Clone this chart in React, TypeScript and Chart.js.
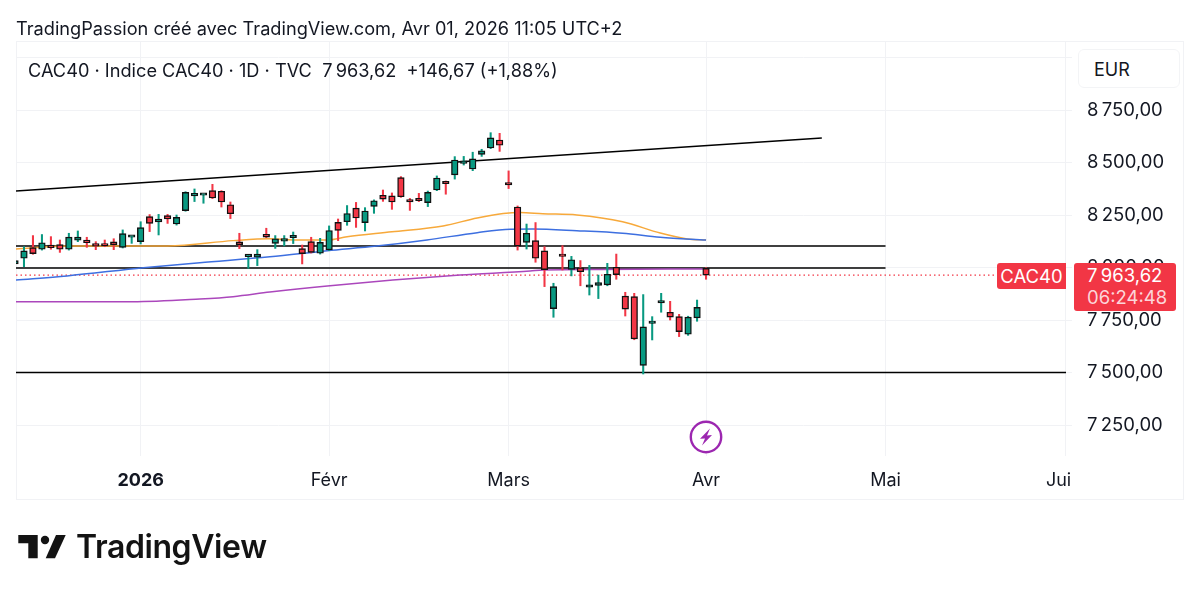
import { useEffect, useRef } from 'react';
import Chart from 'chart.js/auto';

const UP = '#089981';
const DOWN = '#f23645';
const GRID = '#f1f2f5';
const FONT = 'Inter, "Noto Sans", sans-serif';

// trading day index of the first candle (it sits half hidden on the left edge)
const firstDay = -1;
const opens = [8017, 8044, 8095, 8087, 8107, 8109, 8087, 8130, 8131, 8112, 8106, 8122, 8096, 8144, 8123, 8242, 8217, 8247, 8207, 8271, 8341, 8344, 8366, 8363, 8299, 8122, 8052, 8049, 8158, 8115, 8126, 8142, 8090, 8123, 8068, 8084, 8215, 8218, 8283, 8214, 8291, 8344, 8341, 8428, 8317, 8325, 8309, 8369, 8409, 8441, 8496, 8469, 8539, 8569, 8607, 8401, 8288, 8120, 8128, 8079, 7804, 8061, 7991, 7999, 7906, 7915, 7917, 8001, 7864, 7861, 7534, 7734, 7831, 7787, 7766, 7682, 7760, 7996];
const highs = [8033, 8099, 8152, 8157, 8147, 8131, 8163, 8174, 8144, 8123, 8131, 8137, 8179, 8148, 8218, 8252, 8253, 8253, 8250, 8361, 8374, 8348, 8396, 8366, 8312, 8163, 8057, 8085, 8187, 8152, 8152, 8169, 8107, 8144, 8139, 8198, 8231, 8295, 8310, 8285, 8322, 8369, 8355, 8433, 8329, 8353, 8364, 8436, 8412, 8528, 8529, 8549, 8563, 8642, 8639, 8460, 8293, 8207, 8214, 8099, 7925, 8104, 8053, 8033, 8010, 7964, 8020, 8064, 7882, 7877, 7871, 7766, 7877, 7839, 7777, 7768, 7845, 7999];
const lows = [8017, 8004, 8063, 8083, 8087, 8072, 8083, 8123, 8096, 8085, 8099, 8085, 8093, 8115, 8112, 8171, 8155, 8210, 8202, 8268, 8314, 8306, 8328, 8288, 8233, 8090, 7996, 8009, 8142, 8091, 8103, 8114, 8017, 8069, 8064, 8080, 8128, 8201, 8191, 8174, 8258, 8315, 8277, 8334, 8272, 8314, 8290, 8366, 8349, 8421, 8488, 8461, 8529, 8566, 8553, 8376, 8083, 8088, 8025, 7909, 7763, 7988, 7960, 7913, 7869, 7852, 7913, 7944, 7769, 7656, 7493, 7655, 7787, 7750, 7671, 7677, 7744, 7944];
const closes = [8033, 8079, 8066, 8118, 8095, 8087, 8145, 8145, 8118, 8102, 8103, 8109, 8161, 8147, 8190, 8210, 8231, 8231, 8239, 8358, 8353, 8347, 8331, 8312, 8256, 8109, 8057, 8064, 8145, 8137, 8131, 8149, 8066, 8072, 8120, 8176, 8177, 8257, 8236, 8269, 8318, 8326, 8312, 8337, 8312, 8318, 8358, 8426, 8399, 8512, 8502, 8517, 8556, 8617, 8582, 8393, 8102, 8163, 8044, 7990, 7909, 8053, 8037, 7980, 7910, 7928, 7968, 7966, 7802, 7660, 7717, 7739, 7839, 7764, 7695, 7764, 7810, 7963.62];

// moving averages at their bends
const orangeDays = [-0.9, 4.8, 16, 23.3, 27.4, 30, 33.8, 36, 41, 46.7, 50.5, 53.4, 55.3, 57.8, 61.6, 66.7, 70.9, 73.9, 76];
const orangeValues = [8088, 8102, 8102, 8128, 8137, 8131, 8131, 8147, 8170, 8198, 8236, 8257, 8262, 8256, 8250, 8218, 8164, 8136, 8131];
const blueDays = [-0.9, 4.8, 13.3, 19.6, 27.4, 33.8, 39.3, 44.9, 50.5, 54.2, 56.7, 61.6, 66.7, 70.9, 76];
const blueValues = [7940, 7960, 7999, 8023, 8051, 8080, 8102, 8131, 8166, 8182, 8183, 8175, 8163, 8144, 8131];
const purpleDays = [-0.9, 12.1, 19.6, 23.3, 27.4, 33.8, 41.1, 48.6, 56.4, 57.8, 64.2, 76];
const purpleValues = [7837, 7837, 7850, 7861, 7883, 7912, 7940, 7964, 7983, 7988, 7991, 7993];

const xMin = -0.89;
const xMax = 116.11;
const yMin = 7102.4;
const yMax = 9078.6;

// drawn levels: [start day, start value, end day, end value]
const trendLine = [xMin, 8364, 88.9, 8617];
const upperLevel = [xMin, 8102.4, 96, 8102.4];
const middleLevel = [xMin, 7997.6, 96, 7997.6];
const lowerLevel = [xMin, 7500, xMax, 7500];
const lastPrice = [xMin, 7963.62, 108.4, 7963.62];

const priceTicks = [7250, 7500, 7750, 8000, 8250, 8500, 8750, 9000];
const timeTickDays = [13, 34, 54, 76, 96, 115.28, 116];
const timeTickLabels = ['2026', 'Févr', 'Mars', 'Avr', 'Mai', 'Jui', ''];

const segment = (p: number[]) => [{ x: p[0], y: p[1] }, { x: p[2], y: p[3] }];
const curve = (days: number[], values: number[]) => days.map((x, i) => ({ x, y: values[i] }));
const candleColor = opens.map((o, i) => (closes[i] >= o ? UP : DOWN));
const priceLabel = (v: number) => {
  const s = v.toFixed(2).replace('.', ',');
  return s.slice(0, 1) + '\u2009' + s.slice(1);
};

function CandleChart() {
  const canvasRef = useRef<HTMLCanvasElement | null>(null);

  useEffect(() => {
    if (!canvasRef.current) return undefined;

    const line = (data: any[], color: string, width: number, extra = {}) => ({
      type: 'line' as const,
      data,
      borderColor: color,
      borderWidth: width,
      pointRadius: 0,
      order: 3,
      ...extra,
    });

    const chart = new Chart(canvasRef.current, {
      type: 'bar',
      data: {
        datasets: [
          line(curve(purpleDays, purpleValues), '#ab47bc', 1.5, { cubicInterpolationMode: 'monotone' }),
          line(curve(blueDays, blueValues), '#3d6fe0', 1.5, { cubicInterpolationMode: 'monotone' }),
          line(curve(orangeDays, orangeValues), '#f7a93b', 1.5, { cubicInterpolationMode: 'monotone' }),
          line(segment(lastPrice), DOWN, 1.2, { borderDash: [1.5, 3] }),
          line(segment(trendLine), '#000000', 1.6),
          line(segment(upperLevel), '#000000', 1.6),
          line(segment(middleLevel), '#000000', 1.6),
          line(segment(lowerLevel), '#000000', 1.6),
          {
            type: 'bar' as const,
            data: highs.map((h, i) => ({ x: i + firstDay, y: [lows[i], h] })),
            backgroundColor: candleColor,
            barThickness: 1.4,
            grouped: false,
            order: 2,
          },
          {
            type: 'bar' as const,
            data: opens.map((o, i) => ({ x: i + firstDay, y: [o, closes[i]] })),
            backgroundColor: candleColor,
            borderColor: '#111111',
            borderWidth: 1.4,
            borderSkipped: false,
            barThickness: 6.6,
            minBarLength: 2.4,
            grouped: false,
            order: 1,
          },
        ],
      } as any,
      options: {
        animation: false,
        responsive: false,
        layout: { padding: { left: 16, top: 41, right: 0, bottom: 0 } },
        plugins: { legend: { display: false }, tooltip: { enabled: false } },
        scales: {
          x: {
            type: 'linear',
            min: xMin,
            max: xMax,
            offset: false,
            border: { display: false },
            grid: {
              offset: false,
              drawTicks: false,
              color: (ctx: any) => (ctx.tick && ctx.tick.value === 115.28 ? 'rgba(0,0,0,0)' : GRID),
            },
            afterBuildTicks: (scale: any) => {
              scale.ticks = timeTickDays.map((value) => ({ value }));
            },
            afterFit: (scale: any) => {
              scale.height = 138;
            },
            ticks: {
              autoSkip: false,
              maxRotation: 0,
              padding: 14,
              color: '#131722',
              font: (ctx: any) => ({
                family: FONT,
                size: 18,
                weight: ctx.tick && ctx.tick.value === 13 ? 700 : 400,
              }),
              callback: (v: any) => timeTickLabels[timeTickDays.indexOf(Number(v))] ?? '',
            },
          },
          y: {
            type: 'linear',
            position: 'right',
            min: yMin,
            max: yMax,
            border: { display: false },
            grid: { color: GRID, tickLength: 6, tickColor: GRID },
            afterBuildTicks: (scale: any) => {
              scale.ticks = priceTicks.map((value) => ({ value }));
            },
            afterFit: (scale: any) => {
              scale.width = 134;
            },
            ticks: {
              padding: 15,
              color: '#131722',
              font: { family: FONT, size: 18.5 },
              callback: (v: any) => (Number(v) === 9000 ? '' : priceLabel(Number(v))),
            },
          },
        },
      } as any,
    });

    return () => {
      chart.destroy();
    };
  }, []);

  return <canvas ref={canvasRef} width={1200} height={594} style={{ position: 'absolute', left: 0, top: 0 }} />;
}

const textAt = (left: number, top: number, size: number, extra = {}) => ({
  position: 'absolute' as const,
  left,
  top,
  fontSize: size,
  lineHeight: `${size + 6}px`,
  fontFamily: FONT,
  color: '#131722',
  whiteSpace: 'pre' as const,
  ...extra,
});

export default function App() {
  return (
    <div style={{ position: 'fixed', left: 0, top: 0, width: 1200, height: 594, background: '#fff', overflow: 'hidden' }}>
      <div style={{ position: 'absolute', left: 16, top: 41, width: 1168, height: 459, border: `1px solid ${GRID}`, boxSizing: 'border-box' }} />
      <CandleChart />
      <div style={textAt(16, 16, 18.2)}>TradingPassion créé avec TradingView.com, Avr 01, 2026 11:05 UTC+2</div>
      <div style={textAt(28, 58, 18.2)}>{'CAC40 · Indice CAC40 · 1D · TVC  7\u2009963,62  +146,67 (+1,88%)'}</div>
      <div style={{ ...textAt(1078, 49, 18), width: 102, height: 39, lineHeight: '39px', paddingLeft: 15, boxSizing: 'border-box', border: '1px solid #f3f4f6', borderRadius: 6, background: '#fff' }}>EUR</div>
      <div style={{ ...textAt(997, 263, 18.5, { color: '#fff' }), width: 69, height: 26, lineHeight: '26px', textAlign: 'center', background: DOWN, borderRadius: '3px 0 0 3px' }}>CAC40</div>
      <div style={{ position: 'absolute', left: 1074, top: 263, width: 102, height: 48, background: DOWN, borderRadius: 3 }} />
      <div style={textAt(1087, 263, 18.5, { color: '#fff' })}>{priceLabel(7963.62)}</div>
      <div style={textAt(1087, 285, 18.5, { color: '#fcd5d9' })}>06:24:48</div>
      <svg width="36" height="36" viewBox="-18 -18 36 36" style={{ position: 'absolute', left: 688, top: 419 }}>
        <circle r="15.2" fill="#fff" stroke="#9c27b0" strokeWidth="2.4" />
        <polygon points="4,-8.5 -6,1.8 -1,1.4 -4,8.5 6,-2 1,-1.6" fill="#9c27b0" />
      </svg>
      <svg width="60" height="30" viewBox="0 0 60 30" style={{ position: 'absolute', left: 16, top: 532 }}>
        <polygon points="2.3,3 21.7,3 21.7,26.3 12.3,26.3 12.3,11.3 2.3,11.3" fill="#131313" />
        <circle cx="29" cy="8" r="4.2" fill="#131313" />
        <polygon points="49.7,3 40,3 29.7,26.3 39,26.3" fill="#131313" />
      </svg>
      <div style={textAt(76, 528, 32, { fontWeight: 600, letterSpacing: -0.4, color: '#131313' })}>TradingView</div>
    </div>
  );
}
